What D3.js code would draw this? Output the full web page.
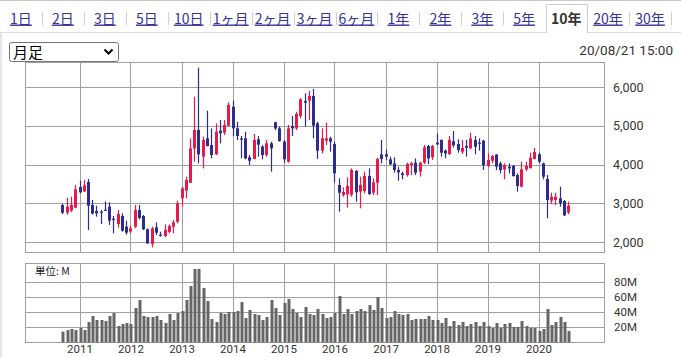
<!DOCTYPE html>
<html><head><meta charset="utf-8">
<script src="https://cdn.jsdelivr.net/npm/d3@7/dist/d3.min.js"></script>
<style>
html,body{margin:0;padding:0;background:#fff;}
svg{display:block;font-family:"Noto Sans CJK JP","Noto Sans",sans-serif;}
</style></head>
<body>
<svg id="c" width="681" height="357"></svg>
<script>
// ---------- DATA ----------
const tabLabels = ["1日","2日","3日","5日","10日","1ヶ月","2ヶ月","3ヶ月","6ヶ月","1年","2年","3年","5年","10年","20年","30年"];
const activeTab = "10年";
const selectLabel = "月足";
const stampLabel = "20/08/21 15:00";
const unitLabel = "単位: M";
const months = d3.timeMonth.range(new Date(2010,8,1), new Date(2020,8,1)); // Sep 2010 .. Aug 2020
const openP = [2955,2757,2809,2886,
 3419,3307,3548,2955,2800,2783,2834,2912,2602,2464,2671,2396,
 2267,2396,2826,2671,2327,1948,2378,2189,2155,2258,2396,2525,
 3127,3325,3531,4417,4890,4202,4675,4503,4262,4873,4822,5002,
 5492,4933,4675,4675,4185,4142,4649,4460,4245,4546,5088,4933,
 4589,4073,4994,4933,5252,5639,5647,5768,5062,4357,4615,4675,
 4529,3471,3213,3230,3221,3832,3299,3316,3703,3273,3531,4262,
 4262,4133,4030,3858,3772,3729,3987,4047,3815,4047,4477,4185,
 4563,4632,4357,4271,4598,4529,4331,4477,4417,4632,4563,4615,
 3961,4099,4254,4030,3875,3944,3961,3729,3428,3875,3910,4142,
 4262,4030,3626,3067,3084,3127,3058,2757];
const closeP = [2757,2912,2955,3359,
 3282,3462,2938,2731,2740,2757,2809,2550,2576,2723,2292,2241,
 2353,2826,2619,2327,1966,2353,2241,2165,2310,2413,2507,2998,
 3385,3600,4417,4890,4262,4632,4477,4245,4847,4804,5019,5535,
 4933,4736,4641,4159,4099,4632,4512,4245,4546,4417,4933,4606,
 4133,4933,4933,5303,5682,5596,5768,5002,4357,4675,4675,4589,
 3772,3273,3290,3445,3858,3282,3471,3703,3239,3540,4142,4142,
 4202,4004,3858,3798,3729,4013,4030,3789,4047,4443,4159,4477,
 4520,4305,4288,4632,4495,4374,4426,4434,4675,4460,4546,3987,
 4116,4219,3944,3858,3987,3901,3703,3445,3875,3961,4176,4323,
 4073,3686,3084,3170,3170,2998,2688,2938];
const highP = [2981,3144,3170,3471,
 3583,3600,3626,3084,2937,2826,3049,3024,2671,2826,2740,2550,
 2421,2955,2955,2697,2353,2396,2507,2267,2456,2456,2568,3067,
 3428,3686,4675,5750,6499,4718,5389,4933,5062,5148,5148,5604,
 5647,5105,4736,4847,4245,4787,4736,4503,4632,4589,5105,4977,
 4632,5019,5252,5363,5708,5837,5897,5948,5105,4933,5080,4718,
 4589,3643,3411,3669,3901,3858,3686,3815,3901,3643,4176,4632,
 4391,4202,4185,3944,3815,4047,4073,4159,4073,4503,4503,4503,
 4804,4649,4391,4736,4865,4649,4632,4632,4822,4736,4675,4632,
 4288,4245,4271,4073,4030,4030,3987,3772,4073,4073,4305,4426,
 4305,4047,3729,3273,3273,3428,3084,3041];
const lowP = [2723,2705,2774,2869,
 3256,3290,2310,2714,2654,2464,2800,2439,2224,2370,2267,2189,
 2224,2353,2585,2310,1948,1862,2181,2138,2120,2224,2224,2482,
 2912,3127,3520,4073,4030,3901,4470,4159,4245,4546,4761,4976,
 4736,4632,4159,4133,3987,4135,4202,4133,4202,3815,4890,4589,
 4047,4047,4736,4890,5191,4977,5148,4675,4142,4288,4503,4331,
 3531,2783,3170,2886,3170,3041,2869,3256,3213,3213,3213,4030,
 4116,3987,3789,3583,3617,3686,3729,3729,3686,4013,4013,4116,
 4503,4202,4159,4245,4443,4305,4271,4202,4391,4262,4357,3858,
 3927,4030,3858,3772,3617,3772,3686,3299,3411,3832,3892,4133,
 4030,3617,2611,2981,2955,2912,2671,2723];
const volumeM = [14.3,16.4,17.8,16.4,
 19.1,16.4,27.0,34.9,29.6,29.6,28.3,34.9,38.8,21.7,24.3,25.7,
 24.3,45.4,55.9,34.9,33.6,33.6,34.9,29.6,25.7,37.5,29.6,38.8,
 41.4,55.9,74.3,96.7,96.7,71.7,54.6,30.9,27.0,38.8,37.5,40.1,
 40.1,41.4,53.3,32.2,42.8,37.5,36.2,29.6,33.6,55.9,45.4,36.2,
 52.0,57.2,44.1,38.8,33.6,46.7,37.5,36.2,44.1,37.5,32.2,33.6,
 38.8,61.2,37.5,44.1,37.5,41.4,44.1,41.4,49.3,42.8,59.9,45.4,
 32.2,33.6,41.4,37.5,36.2,37.5,29.6,30.9,30.9,30.9,34.9,29.6,
 29.6,25.7,32.2,21.7,28.3,23.0,27.0,21.7,24.3,27.0,21.7,27.0,
 21.7,19.1,25.7,19.1,24.3,25.7,20.4,20.4,28.3,21.7,19.1,19.1,
 15.1,17.8,44.1,23.0,27.0,33.6,27.0,15.1];
const priceTicks = [2000,3000,4000,5000,6000];
const volumeTicks = [20,40,60,80];
const yearTicks = [2011,2012,2013,2014,2015,2016,2017,2018,2019,2020];

// ---------- STYLE ----------
const UP = "#e8194c", DOWN = "#2e2c8e", VOL = "#666666", GRID = "#a0a0a0", TXT = "#333333", LINK = "#33339a";
const NUMFONT = 'Roboto,"Noto Sans",sans-serif';

const svg = d3.select("#c");
svg.append("rect").attr("width",681).attr("height",357).attr("fill","#fff");
svg.append("line").attr("x1",0).attr("x2",681).attr("y1",0.5).attr("y2",0.5).attr("stroke","#c8c8c8");
svg.append("rect").attr("x",0).attr("y",33).attr("width",2).attr("height",324).attr("fill","#e6e6e6");

// ---------- TABS ----------
const cellW = 671/16;
svg.append("line").attr("x1",0).attr("x2",681).attr("y1",32.5).attr("y2",32.5).attr("stroke","#dddddd");
const tabs = svg.append("g");
tabLabels.forEach((t,i)=>{
  const cx = cellW*i + cellW/2;
  if (t === activeTab) {
    const x0 = Math.round(cellW*i)+1.5, x1 = Math.round(cellW*(i+1))+0.5;
    tabs.append("path").attr("d",`M${x0},33V4.5H${x1}V33`).attr("fill","#fff").attr("stroke","#cfcfcf");
    tabs.append("text").attr("x",cx).attr("y",23.5).attr("text-anchor","middle")
      .attr("font-size",14).attr("font-weight","bold").attr("fill","#333").text(t);
  } else {
    tabs.append("text").attr("x",cx).attr("y",23.5).attr("text-anchor","middle")
      .attr("font-size",14).attr("fill",LINK).attr("text-decoration","underline").text(t);
    const next = tabLabels[i+1];
    if (next !== activeTab) {
      const sx = Math.round(cellW*(i+1))+0.5;
      tabs.append("line").attr("x1",sx).attr("x2",sx).attr("y1",12).attr("y2",25).attr("stroke","#d0d0d0");
    }
  }
});

// ---------- SELECT + STAMP ----------
svg.append("rect").attr("x",9.5).attr("y",42.5).attr("width",109).attr("height",19).attr("rx",2)
  .attr("fill","#fff").attr("stroke","#767676");
svg.append("text").attr("x",13).attr("y",58).attr("font-size",15).attr("fill","#000").text(selectLabel);
svg.append("path").attr("d","M104.5,49.5L108.5,53.5L112.5,49.5").attr("fill","none").attr("stroke","#000").attr("stroke-width",2);
svg.append("text").attr("x",673).attr("y",55).attr("text-anchor","end").attr("font-size",13.5)
  .attr("font-family",NUMFONT).attr("fill",TXT).text(stampLabel);

// ---------- SCALES ----------
const L = 25.5, R = 604.5;
const x = d3.scaleTime().domain([new Date(2011,0,1), new Date(2020,0,1)]).range([79.5, 538.5]);
const y = d3.scaleLinear().domain([2000,6000]).range([242,87]);
const yv = d3.scaleLinear().domain([0,80]).range([342.5,281.7]);
const P = {top:62.5, bottom:252.5}, V = {top:263.5, bottom:342.5};
const crisp = v => Math.round(v)+0.5;

function panel(top,bottom,hTicks,hScale){
  const g = svg.append("g");
  g.selectAll(".h").data(hTicks).join("line")
    .attr("x1",L).attr("x2",R).attr("y1",d=>crisp(hScale(d))).attr("y2",d=>crisp(hScale(d)))
    .attr("stroke",GRID);
  g.selectAll(".v").data(yearTicks).join("line")
    .attr("x1",d=>crisp(x(new Date(d,0,1)))).attr("x2",d=>crisp(x(new Date(d,0,1))))
    .attr("y1",top).attr("y2",bottom).attr("stroke",GRID);
  g.append("rect").attr("x",L).attr("y",top).attr("width",R-L).attr("height",bottom-top)
    .attr("fill","none").attr("stroke",GRID);
}
panel(P.top,P.bottom,priceTicks,y);
panel(V.top,V.bottom,volumeTicks,yv);

// ---------- CANDLES ----------
const data = months.map((m,i)=>({m,o:openP[i],h:highP[i],l:lowP[i],c:closeP[i],v:volumeM[i]}));
const cg = svg.append("g");
data.forEach(d=>{
  const cx = Math.round(x(d.m));
  const col = d.c >= d.o ? UP : DOWN;
  cg.append("line").attr("x1",cx+0.5).attr("x2",cx+0.5).attr("y1",y(d.h)).attr("y2",y(d.l))
    .attr("stroke",col).attr("stroke-width",1.2);
  const yt = y(Math.max(d.o,d.c)), yb = y(Math.min(d.o,d.c));
  cg.append("rect").attr("x",cx-1).attr("y",yt).attr("width",3).attr("height",Math.max(1.2,yb-yt)).attr("fill",col);
});

// ---------- VOLUME ----------
svg.append("g").selectAll("rect").data(data).join("rect")
  .attr("x",d=>Math.round(x(d.m))-0.5).attr("width",3)
  .attr("y",d=>yv(d.v)).attr("height",d=>yv(0)-yv(d.v)).attr("fill",VOL);

svg.append("text").attr("x",35).attr("y",275).attr("font-size",10.5).attr("fill","#222").text(unitLabel);

// ---------- AXES ----------
const ay = svg.append("g").attr("transform","translate(609,0)")
  .call(d3.axisRight(y).tickValues(priceTicks).tickFormat(d3.format(",")).tickSize(0).tickPadding(4));
const av = svg.append("g").attr("transform","translate(609,0)")
  .call(d3.axisRight(yv).tickValues(volumeTicks).tickFormat(d=>d+"M").tickSize(0).tickPadding(5));
const ax = svg.append("g").attr("transform","translate(0,343)")
  .call(d3.axisBottom(x).tickValues(yearTicks.map(yr=>new Date(yr,0,1))).tickFormat(d3.timeFormat("%Y")).tickSize(0).tickPadding(2));
ay.selectAll("text").attr("font-size",12.5);
av.selectAll("text").attr("font-size",11.5);
ax.selectAll("text").attr("font-size",11.5);
[ay,av,ax].forEach(a=>{
  a.select(".domain").remove();
  a.selectAll("text").attr("fill",TXT).attr("font-family",NUMFONT);
});
</script>
</body></html>
